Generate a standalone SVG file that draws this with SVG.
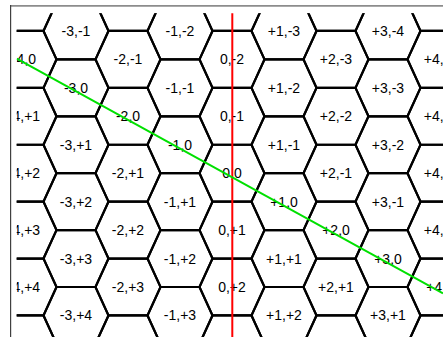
<svg xmlns="http://www.w3.org/2000/svg" width="443" height="337" viewBox="0 0 443 337">
<style>
.h{fill:none;stroke:#000;stroke-width:2.2}
.t{font-family:"Liberation Sans",Arial,sans-serif;font-size:14px;text-anchor:middle;fill:#000}
.ax{stroke-width:2;fill:none}
</style>
<defs>
<polygon id="hx" points="-32.5,0 -19.5,-28.45 19.5,-28.45 32.5,0 19.5,28.45 -19.5,28.45"/>
<clipPath id="cp"><rect x="16.7" y="13.2" width="430" height="330"/></clipPath>
</defs>
<rect x="0" y="0" width="443" height="337" fill="#fff"/>
<line x1="10" y1="5.8" x2="443" y2="5.8" stroke="#8c8c8c" stroke-width="1.8"/>
<line x1="10.6" y1="5" x2="10.6" y2="337" stroke="#404040" stroke-width="1.2"/>
<g clip-path="url(#cp)">
<g id="hexes">
<!-- q=-4 -->
<g id="h-4_-1"><use href="#hx" class="h" x="24" y="2.5"/></g>
<g id="h-4_0"><use href="#hx" class="h" x="24" y="59.4"/><text class="t" x="24" y="64.4">-4,0</text></g>
<g id="h-4_1"><use href="#hx" class="h" x="24" y="116.3"/><text class="t" x="24" y="121.3">-4,+1</text></g>
<g id="h-4_2"><use href="#hx" class="h" x="24" y="173.2"/><text class="t" x="24" y="178.2">-4,+2</text></g>
<g id="h-4_3"><use href="#hx" class="h" x="24" y="230.1"/><text class="t" x="24" y="235.1">-4,+3</text></g>
<g id="h-4_4"><use href="#hx" class="h" x="24" y="287"/><text class="t" x="24" y="292">-4,+4</text></g>
<g id="h-4_5"><use href="#hx" class="h" x="24" y="343.9"/></g>
<!-- q=-3 -->
<g id="h-3_-1"><use href="#hx" class="h" x="76" y="30.95"/><text class="t" x="76" y="35.95">-3,-1</text></g>
<g id="h-3_0"><use href="#hx" class="h" x="76" y="87.85"/><text class="t" x="76" y="92.85">-3,0</text></g>
<g id="h-3_1"><use href="#hx" class="h" x="76" y="144.75"/><text class="t" x="76" y="149.75">-3,+1</text></g>
<g id="h-3_2"><use href="#hx" class="h" x="76" y="201.65"/><text class="t" x="76" y="206.65">-3,+2</text></g>
<g id="h-3_3"><use href="#hx" class="h" x="76" y="258.55"/><text class="t" x="76" y="263.55">-3,+3</text></g>
<g id="h-3_4"><use href="#hx" class="h" x="76" y="315.45"/><text class="t" x="76" y="320.45">-3,+4</text></g>
<!-- q=-2 -->
<g id="h-2_-2"><use href="#hx" class="h" x="128" y="2.5"/></g>
<g id="h-2_-1"><use href="#hx" class="h" x="128" y="59.4"/><text class="t" x="128" y="64.4">-2,-1</text></g>
<g id="h-2_0"><use href="#hx" class="h" x="128" y="116.3"/><text class="t" x="128" y="121.3">-2,0</text></g>
<g id="h-2_1"><use href="#hx" class="h" x="128" y="173.2"/><text class="t" x="128" y="178.2">-2,+1</text></g>
<g id="h-2_2"><use href="#hx" class="h" x="128" y="230.1"/><text class="t" x="128" y="235.1">-2,+2</text></g>
<g id="h-2_3"><use href="#hx" class="h" x="128" y="287"/><text class="t" x="128" y="292">-2,+3</text></g>
<g id="h-2_4"><use href="#hx" class="h" x="128" y="343.9"/></g>
<!-- q=-1 -->
<g id="h-1_-2"><use href="#hx" class="h" x="180" y="30.95"/><text class="t" x="180" y="35.95">-1,-2</text></g>
<g id="h-1_-1"><use href="#hx" class="h" x="180" y="87.85"/><text class="t" x="180" y="92.85">-1,-1</text></g>
<g id="h-1_0"><use href="#hx" class="h" x="180" y="144.75"/><text class="t" x="180" y="149.75">-1,0</text></g>
<g id="h-1_1"><use href="#hx" class="h" x="180" y="201.65"/><text class="t" x="180" y="206.65">-1,+1</text></g>
<g id="h-1_2"><use href="#hx" class="h" x="180" y="258.55"/><text class="t" x="180" y="263.55">-1,+2</text></g>
<g id="h-1_3"><use href="#hx" class="h" x="180" y="315.45"/><text class="t" x="180" y="320.45">-1,+3</text></g>
<!-- q=0 -->
<g id="h0_-3"><use href="#hx" class="h" x="232" y="2.5"/></g>
<g id="h0_-2"><use href="#hx" class="h" x="232" y="59.4"/><text class="t" x="232" y="64.4">0,-2</text></g>
<g id="h0_-1"><use href="#hx" class="h" x="232" y="116.3"/><text class="t" x="232" y="121.3">0,-1</text></g>
<g id="h0_0"><use href="#hx" class="h" x="232" y="173.2"/><text class="t" x="232" y="178.2">0,0</text></g>
<g id="h0_1"><use href="#hx" class="h" x="232" y="230.1"/><text class="t" x="232" y="235.1">0,+1</text></g>
<g id="h0_2"><use href="#hx" class="h" x="232" y="287"/><text class="t" x="232" y="292">0,+2</text></g>
<g id="h0_3"><use href="#hx" class="h" x="232" y="343.9"/></g>
<!-- q=1 -->
<g id="h1_-3"><use href="#hx" class="h" x="284" y="30.95"/><text class="t" x="284" y="35.95">+1,-3</text></g>
<g id="h1_-2"><use href="#hx" class="h" x="284" y="87.85"/><text class="t" x="284" y="92.85">+1,-2</text></g>
<g id="h1_-1"><use href="#hx" class="h" x="284" y="144.75"/><text class="t" x="284" y="149.75">+1,-1</text></g>
<g id="h1_0"><use href="#hx" class="h" x="284" y="201.65"/><text class="t" x="284" y="206.65">+1,0</text></g>
<g id="h1_1"><use href="#hx" class="h" x="284" y="258.55"/><text class="t" x="284" y="263.55">+1,+1</text></g>
<g id="h1_2"><use href="#hx" class="h" x="284" y="315.45"/><text class="t" x="284" y="320.45">+1,+2</text></g>
<!-- q=2 -->
<g id="h2_-4"><use href="#hx" class="h" x="336" y="2.5"/></g>
<g id="h2_-3"><use href="#hx" class="h" x="336" y="59.4"/><text class="t" x="336" y="64.4">+2,-3</text></g>
<g id="h2_-2"><use href="#hx" class="h" x="336" y="116.3"/><text class="t" x="336" y="121.3">+2,-2</text></g>
<g id="h2_-1"><use href="#hx" class="h" x="336" y="173.2"/><text class="t" x="336" y="178.2">+2,-1</text></g>
<g id="h2_0"><use href="#hx" class="h" x="336" y="230.1"/><text class="t" x="336" y="235.1">+2,0</text></g>
<g id="h2_1"><use href="#hx" class="h" x="336" y="287"/><text class="t" x="336" y="292">+2,+1</text></g>
<g id="h2_2"><use href="#hx" class="h" x="336" y="343.9"/></g>
<!-- q=3 -->
<g id="h3_-4"><use href="#hx" class="h" x="388" y="30.95"/><text class="t" x="388" y="35.95">+3,-4</text></g>
<g id="h3_-3"><use href="#hx" class="h" x="388" y="87.85"/><text class="t" x="388" y="92.85">+3,-3</text></g>
<g id="h3_-2"><use href="#hx" class="h" x="388" y="144.75"/><text class="t" x="388" y="149.75">+3,-2</text></g>
<g id="h3_-1"><use href="#hx" class="h" x="388" y="201.65"/><text class="t" x="388" y="206.65">+3,-1</text></g>
<g id="h3_0"><use href="#hx" class="h" x="388" y="258.55"/><text class="t" x="388" y="263.55">+3,0</text></g>
<g id="h3_1"><use href="#hx" class="h" x="388" y="315.45"/><text class="t" x="388" y="320.45">+3,+1</text></g>
<!-- q=4 -->
<g id="h4_-5"><use href="#hx" class="h" x="440" y="2.5"/></g>
<g id="h4_-4"><use href="#hx" class="h" x="440" y="59.4"/><text class="t" x="440" y="64.4">+4,-4</text></g>
<g id="h4_-3"><use href="#hx" class="h" x="440" y="116.3"/><text class="t" x="440" y="121.3">+4,-3</text></g>
<g id="h4_-2"><use href="#hx" class="h" x="440" y="173.2"/><text class="t" x="440" y="178.2">+4,-2</text></g>
<g id="h4_-1"><use href="#hx" class="h" x="440" y="230.1"/><text class="t" x="440" y="235.1">+4,-1</text></g>
<g id="h4_0"><use href="#hx" class="h" x="440" y="287"/><text class="t" x="440" y="292">+4,0</text></g>
<g id="h4_1"><use href="#hx" class="h" x="440" y="343.9"/></g>
</g>
<g id="connectors">
<line class="ax" x1="232.3" y1="0" x2="232.3" y2="337" stroke="#ff0000"/>
<line class="ax" x1="16.7" y1="58.6" x2="443" y2="293.3" stroke="#00e000"/>
</g>
</g>
</svg>
